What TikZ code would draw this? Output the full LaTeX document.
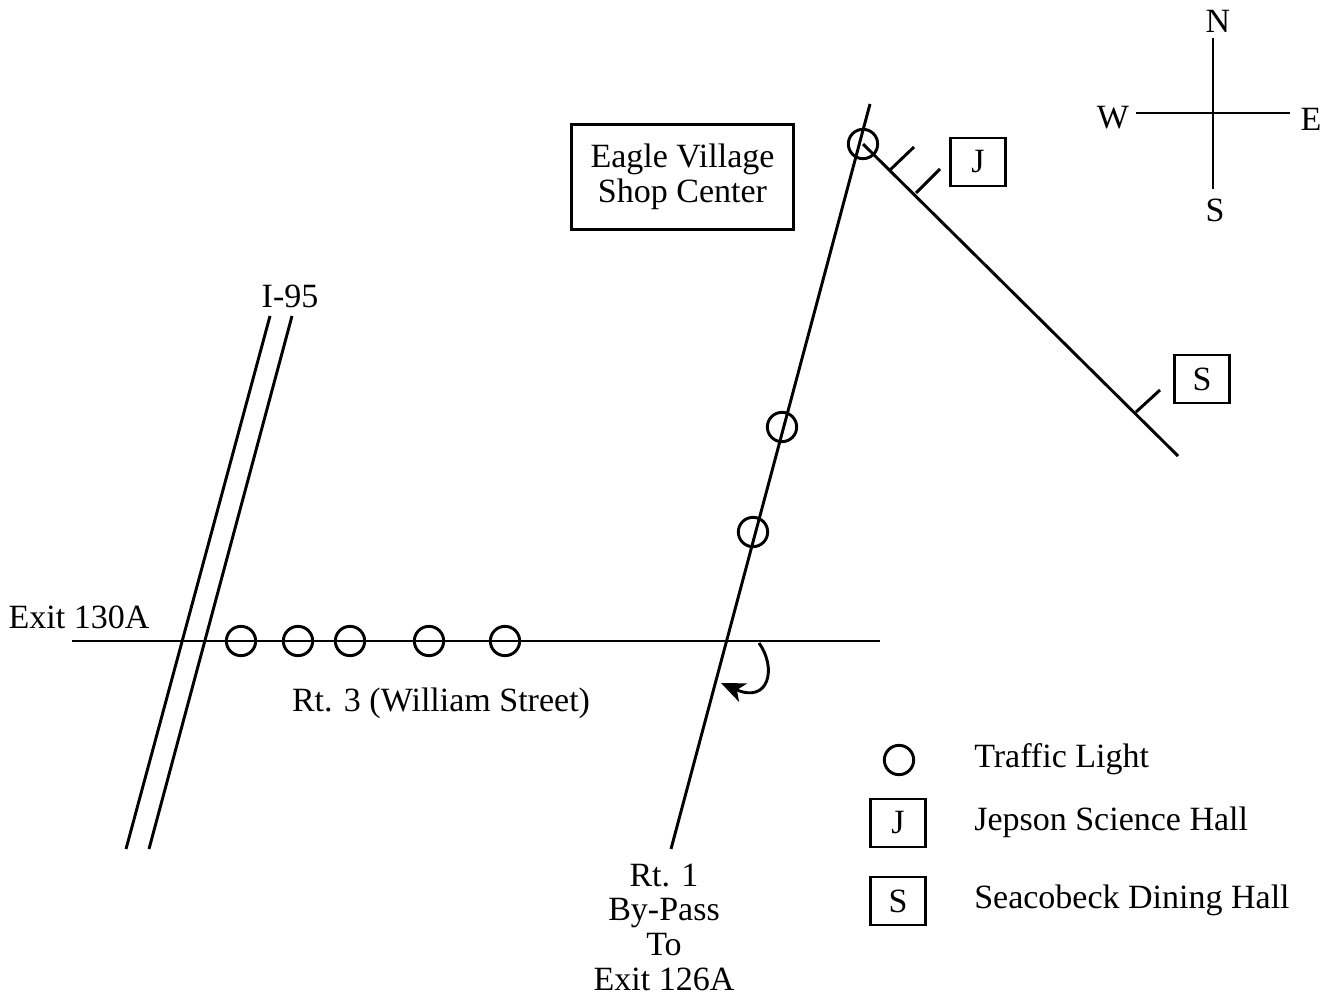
\documentclass[tikz,border=0pt]{standalone}
\usepackage{xcolor}
\usepackage{amsmath}
\usepackage{fontspec}
\setmainfont{Liberation Serif}
\usepackage{tikz}
\usetikzlibrary{arrows.meta}
\usetikzlibrary{calc}
\tikzset{
 road/.style={black,line width=2.2pt},
 light/.style={draw,black,circle,line width=2.2pt,minimum size=22pt,inner sep=0pt},
 bldg/.style={draw,black,line width=2.2pt,minimum width=41pt,minimum height=36pt,inner sep=0pt,font=\fontsize{25.5}{25.5}\selectfont},
 lbl/.style={inner sep=0pt,font=\fontsize{25.5}{26}\selectfont},
}
\begin{document}
\begin{tikzpicture}[x=.75pt,y=-.75pt]
\useasboundingbox (0,0) rectangle (1332,995);
% interstate
\coordinate (a1) at (126,849);
\coordinate (a2) at (270,316);
\coordinate (b1) at (149,849);
\coordinate (b2) at (292,316);
\draw[road] (a1)--(a2);
\draw[road] (b1)--(b2);
\node[lbl] (i95) at (290,296) {I-95};
% rt 3
\coordinate (w) at (72,641);
\coordinate (e) at (880,641);
\draw[road] (w)--(e);
\node[lbl] (exit) at (79,617) {Exit 130A};
\node[lbl] (will) at (441,703) {Rt. 3 (William Street)};
\foreach \x in {241,298,350,429,505} {
 \node[light] (l\x) at (\x,641) {};
}
% rt 1
\coordinate (s) at (671,849);
\coordinate (n) at (870,104);
\draw[road] (s)--(n);
\foreach \x/\y in {753/532,782/427,863/144} {
 \node[light] (r\x) at (\x,\y) {};
}
% side road
\coordinate (c1) at (863,144);
\coordinate (c2) at (1178,456);
\draw[road] (c1)--(c2);
\draw[road] (890,170)--(914,147);
\draw[road] (916,193)--(940,169);
\draw[road] (1136,412)--(1160,390);
\node[bldg] (j1) at (978,162) {J};
\node[bldg] (s1) at (1202,379) {S};
% turn arrow
\draw[black,line width=2.2pt,-{Stealth[length=18pt,width=15pt,inset=5pt]}] (759,643) .. controls (777,668) and (769,704) .. (721,683);
\node[draw,black,line width=2.2pt,minimum width=166pt,minimum height=79pt,inner sep=0pt,align=center,font=\fontsize{25.5}{26}\selectfont] (eagle) at (682.5,177) {Eagle Village\\Shop Center};
\node[lbl,align=center] (rt1) at (664,927) {Rt. 1\\By-Pass\\To\\Exit 126A};
% compass
\coordinate (cn) at (1213,38);
\coordinate (cs) at (1213,189);
\coordinate (cw) at (1136,113);
\coordinate (ce) at (1290,113);
\draw[road] (cn)--(cs);
\draw[road] (cw)--(ce);
\node[lbl] (nn) at (1218,21) {N};
\node[lbl] (ss) at (1215,210) {S};
\node[lbl] (ww) at (1113,118) {W};
\node[lbl] (ee) at (1311,119) {E};
% legend
\node[light] (k1) at (899,760) {};
\node[bldg] (k2) at (898,823) {J};
\node[bldg] (k3) at (898,901) {S};
\node[lbl,anchor=west] (t1) at (974,759) {Traffic Light};
\node[lbl,anchor=west] (t2) at (974,822) {Jepson Science Hall};
\node[lbl,anchor=west] (t3) at (974,900) {Seacobeck Dining Hall};
\end{tikzpicture}
\end{document}
